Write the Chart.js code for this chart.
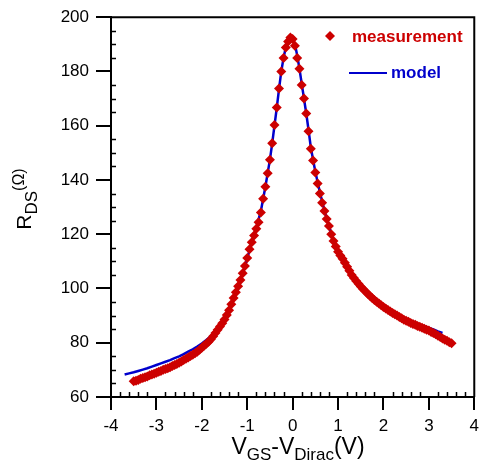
<!DOCTYPE html>
<html>
<head>
<meta charset="utf-8">
<script src="https://cdn.jsdelivr.net/npm/chart.js@4.4.1/dist/chart.umd.min.js"></script>
<style>
  html, body { margin: 0; padding: 0; background: #fff; }
  #wrap { width: 485px; height: 474px; }
</style>
</head>
<body>
<div id="wrap"><canvas id="rds-chart"></canvas></div>
<script>
const measX = [
  -3.5, -3.45, -3.4, -3.35, -3.3, -3.25, -3.2, -3.15, -3.1, -3.05, -3.0, -2.95, -2.9, -2.85,
  -2.8, -2.75, -2.7, -2.65, -2.6, -2.55, -2.5, -2.45, -2.4, -2.35, -2.3, -2.25, -2.2, -2.15,
  -2.1, -2.05, -2.0, -1.95, -1.9, -1.85, -1.8, -1.75, -1.7, -1.65, -1.6, -1.55, -1.5, -1.45,
  -1.4, -1.35, -1.3, -1.25, -1.2, -1.15, -1.1, -1.05,
  -1.0, -0.95, -0.9, -0.85, -0.8, -0.75, -0.7, -0.65, -0.6, -0.55, -0.5, -0.45, -0.4, -0.35,
  -0.3, -0.25, -0.2, -0.15, -0.1, -0.05, 0, 0.05, 0.1, 0.15, 0.2, 0.25, 0.3, 0.35, 0.4,
  0.45, 0.5, 0.55, 0.6, 0.65, 0.7, 0.75, 0.8, 0.85, 0.9, 0.95, 1.0,
  1.05, 1.1, 1.15, 1.2, 1.25, 1.3, 1.35, 1.4, 1.45, 1.5, 1.55, 1.6, 1.65, 1.7, 1.75, 1.8,
  1.85, 1.9, 1.95, 2.0, 2.05, 2.1, 2.15, 2.2, 2.25, 2.3, 2.35, 2.4, 2.45, 2.5, 2.55, 2.6,
  2.65, 2.7, 2.75, 2.8, 2.85, 2.9, 2.95, 3.0, 3.05, 3.1, 3.15, 3.2, 3.25, 3.3, 3.35, 3.4,
  3.45, 3.5
];
const measY = [
  65.8, 66.0, 66.3, 66.7, 67.0, 67.3, 67.6, 68.0, 68.3, 68.6, 68.9, 69.3, 69.6, 70.0,
  70.3, 70.6, 71.0, 71.4, 71.8, 72.2, 72.6, 73.1, 73.6, 74.1, 74.6, 75.1, 75.6, 76.1,
  76.7, 77.4, 78.2, 78.9, 79.6, 80.4, 81.3, 82.4, 83.6, 84.8, 86.0, 87.2, 88.6, 90.2,
  92.0, 94.2, 96.5, 98.6, 100.8, 103.1, 105.6, 108.3,
  111.2, 114.5, 117.0, 119.5, 122.0, 124.4, 128.0, 133.1, 137.5, 142.5, 147.5, 153.5, 160.3, 166.7,
  173.7, 180.0, 185.0, 188.8, 191.0, 192.5, 192.0, 189.5, 185.0, 181.0, 175.0, 170.0, 164.5, 158.0, 151.5,
  147.2, 142.8, 138.7, 135.0, 131.6, 128.6, 125.6, 123.0, 120.0, 117.5, 115.5, 113.5,
  112.2, 111.0, 109.5, 108.0, 106.5, 105.0, 103.9, 102.8, 101.7, 100.7, 99.8, 99.0, 98.1, 97.3, 96.5, 95.8,
  95.1, 94.5, 93.8, 93.2, 92.6, 92.1, 91.5, 91.0, 90.5, 90.0, 89.5, 89.0, 88.5, 88.1, 87.7, 87.3,
  86.9, 86.6, 86.2, 85.9, 85.5, 85.2, 84.8, 84.5, 84.0, 83.6, 83.1, 82.6, 82.1, 81.6, 81.1, 80.7,
  80.2, 79.8
];

// model curve
const modelX = [
  -3.7, -3.6, -3.5, -3.4, -3.3, -3.2, -3.1, -3.0, -2.9, -2.8, -2.7, -2.6, -2.5, -2.4, -2.3,
  -2.2, -2.1, -2.0, -1.9, -1.8, -1.7, -1.6, -1.5, -1.4, -1.3, -1.2, -1.1, -1.0, -0.9, -0.8,
  -0.7, -0.6, -0.5, -0.45, -0.4, -0.35, -0.3, -0.25, -0.2, -0.15, -0.1, -0.05, 0, 0.05, 0.1,
  0.15, 0.2, 0.25, 0.3, 0.35, 0.4, 0.45, 0.5, 0.6, 0.7, 0.8, 0.9, 1.0, 1.1, 1.2, 1.3, 1.4,
  1.5, 1.6, 1.7, 1.8, 1.9, 2.0, 2.1, 2.2, 2.3, 2.4, 2.5, 2.6, 2.7, 2.8, 2.9, 3.0, 3.1, 3.2, 3.3
];
const modelY = [
  68.3, 68.7, 69.1, 69.6, 70.1, 70.6, 71.2, 71.8, 72.4, 73.0, 73.6, 74.3, 75.0, 75.8, 76.7,
  77.6, 78.6, 79.7, 81.0, 82.4, 84.2, 86.3, 88.8, 92.0, 96.0, 100.5, 105.5, 111.0, 117.0, 122.5,
  128.5, 137.5, 147.5, 153.5, 160.0, 166.5, 173.5, 180.0, 185.0, 189.0, 191.3, 192.5, 192.0, 190.0, 186.0,
  181.0, 175.5, 170.0, 164.5, 158.5, 152.0, 147.5, 143.0, 135.5, 128.8, 123.0, 117.8, 113.5, 111.0, 108.2, 105.3, 103.0,
  100.9, 99.2, 97.6, 96.1, 94.8, 93.5, 92.4, 91.4, 90.5, 89.6, 88.8, 88.1, 87.4, 86.7, 86.1, 85.5, 84.9, 84.2, 83.6
];

const xTicks = [-4, -3, -2, -1, 0, 1, 2, 3, 4];
const yTicks = [60, 80, 100, 120, 140, 160, 180, 200];

const RED = '#cc0000';
const BLUE = '#0000cc';
const FONT = '"Liberation Sans", Arial, sans-serif';

// inside minor ticks, top/right frame, axis titles and legend
const decorations = {
    id: 'decorations',
    afterDraw(chart) {
        const { ctx, chartArea: a, scales: { x, y } } = chart;
        ctx.save();
        ctx.strokeStyle = '#000';
        ctx.lineWidth = 2;
        ctx.beginPath();
        ctx.moveTo(a.left, a.top);
        ctx.lineTo(a.right, a.top);
        ctx.lineTo(a.right, a.bottom);
        ctx.stroke();

        ctx.lineWidth = 1.5;
        ctx.beginPath();
        for (let v = 60; v <= 200; v += 5) {
            if (v % 20 === 0) continue;
            const py = Math.round(y.getPixelForValue(v)) + 0.5;
            ctx.moveTo(a.left, py);
            ctx.lineTo(a.left + 5, py);
        }
        for (let i = -20; i <= 20; i++) {
            if (i % 5 === 0) continue;
            const px = Math.round(x.getPixelForValue(i / 5)) + 0.5;
            ctx.moveTo(px, a.bottom);
            ctx.lineTo(px, a.bottom - 5);
        }
        ctx.stroke();

        // x title: V_GS-V_Dirac(V)
        ctx.fillStyle = '#000';
        ctx.textBaseline = 'alphabetic';
        const parts = [
            ['V', 23, 0], ['GS', 17, 6], ['-V', 23, 0], ['Dirac', 17, 6], ['(V)', 23, 0]
        ];
        let w = 0;
        parts.forEach(p => { ctx.font = p[1] + 'px ' + FONT; w += ctx.measureText(p[0]).width; });
        let cx = 298 - w / 2;
        parts.forEach(p => {
            ctx.font = p[1] + 'px ' + FONT;
            ctx.fillText(p[0], cx, 454 + p[2]);
            cx += ctx.measureText(p[0]).width;
        });

        // y title: R_DS(Ω)
        ctx.translate(31, 199);
        ctx.rotate(-Math.PI / 2);
        const yparts = [['R', 21, 0], ['DS', 17, 6], ['(Ω)', 16, -7]];
        w = 0;
        yparts.forEach(p => { ctx.font = p[1] + 'px ' + FONT; w += ctx.measureText(p[0]).width; });
        cx = -w / 2;
        yparts.forEach(p => {
            ctx.font = p[1] + 'px ' + FONT;
            ctx.fillText(p[0], cx, p[2]);
            cx += ctx.measureText(p[0]).width;
        });
        ctx.setTransform(1, 0, 0, 1, 0, 0);

        // legend
        ctx.fillStyle = RED;
        ctx.beginPath();
        ctx.moveTo(330, 31);
        ctx.lineTo(335, 36);
        ctx.lineTo(330, 41);
        ctx.lineTo(325, 36);
        ctx.closePath();
        ctx.fill();
        ctx.font = 'bold 17px ' + FONT;
        ctx.textBaseline = 'middle';
        ctx.fillText('measurement', 352, 37);

        ctx.strokeStyle = BLUE;
        ctx.lineWidth = 2;
        ctx.beginPath();
        ctx.moveTo(349, 73);
        ctx.lineTo(387, 73);
        ctx.stroke();
        ctx.fillStyle = BLUE;
        ctx.fillText('model', 391, 73);
        ctx.restore();
    }
};

const ctx = document.getElementById('rds-chart').getContext('2d');
new Chart(ctx, {
    type: 'scatter',
    data: {
        datasets: [{
            label: 'measurement',
            data: measX.map((v, i) => ({ x: v, y: measY[i] })),
            showLine: false,
            pointStyle: 'rectRot',
            pointRadius: 5,
            pointBackgroundColor: RED,
            pointBorderColor: RED,
            pointBorderWidth: 0
        }, {
            label: 'model',
            data: modelX.map((v, i) => ({ x: v, y: modelY[i] })),
            showLine: true,
            borderColor: BLUE,
            borderWidth: 2.5,
            pointRadius: 0,
            tension: 0
        }]
    },
    options: {
        responsive: true,
        maintainAspectRatio: false,
        animation: false,
        events: [],
        layout: { padding: { top: 12, right: 7, left: 0, bottom: 0 } },
        plugins: {
            legend: { display: false },
            tooltip: { enabled: false }
        },
        scales: {
            x: {
                type: 'linear',
                min: -4,
                max: 4,
                afterBuildTicks: s => { s.ticks = xTicks.map(v => ({ value: v })); },
                afterFit: s => { s.height = 77; },
                border: { color: '#000', width: 2 },
                grid: { drawOnChartArea: false, drawTicks: true, tickLength: 13, color: '#000', lineWidth: 2 },
                ticks: { color: '#000', padding: 6, font: { family: FONT, size: 17 } }
            },
            y: {
                type: 'linear',
                min: 60,
                max: 200,
                afterBuildTicks: s => { s.ticks = yTicks.map(v => ({ value: v })); },
                afterFit: s => { s.width = 111; },
                border: { color: '#000', width: 2 },
                grid: { drawOnChartArea: false, drawTicks: true, tickLength: 15, color: '#000', lineWidth: 2 },
                ticks: { color: '#000', padding: 7, font: { family: FONT, size: 17 } }
            }
        }
    },
    plugins: [decorations]
});
</script>
</body>
</html>
